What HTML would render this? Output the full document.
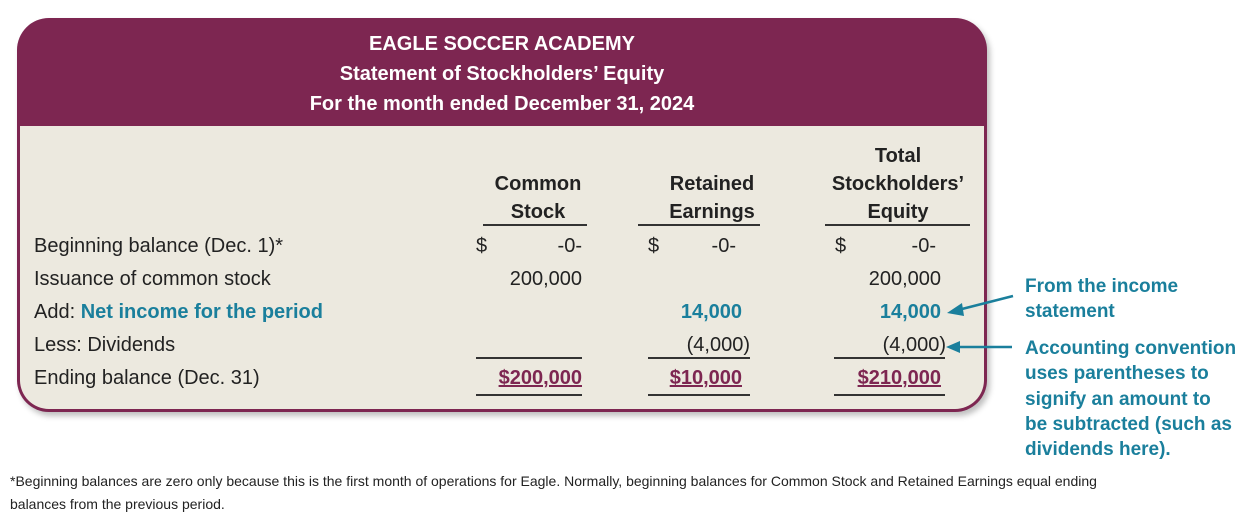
<!DOCTYPE html>
<html><head><meta charset="utf-8"><style>
body{margin:0;width:1260px;height:516px;background:#fff;position:relative;font-family:"Liberation Sans",sans-serif;overflow:hidden}
.a{position:absolute;white-space:nowrap;line-height:1}
.card{position:absolute;left:17px;top:18px;width:970px;height:394px;background:#7d2651;border-radius:32px;box-shadow:3px 4px 6px rgba(0,0,0,.25)}
.body{position:absolute;left:3px;top:108px;width:964px;height:283px;background:#ece9df;border-radius:0 0 29px 29px}
.h{color:#fff;font-weight:bold;font-size:20px;left:0;width:1004px;text-align:center}
.t{font-size:20px;color:#222}
.b{font-weight:bold}
.teal{color:#1a7f9c}
.pur{color:#7d2651}
.r{text-align:right}
.c{text-align:center}
.ln{position:absolute;height:1.5px;background:#333}
.an{color:#1a7f9c;font-weight:bold;font-size:19px;left:1025px}
.fn{font-size:14px;color:#222;left:10px}
</style></head><body>
<div class="card"><div class="body"></div></div>
<div class="a h" style="top:34px">EAGLE SOCCER ACADEMY</div>
<div class="a h" style="top:64px">Statement of Stockholders’ Equity</div>
<div class="a h" style="top:94px">For the month ended December 31, 2024</div>

<div class="a t b c" style="left:470px;width:136px;top:170px;line-height:28px">Common<br>Stock</div>
<div class="a t b c" style="left:640px;width:144px;top:170px;line-height:28px">Retained<br>Earnings</div>
<div class="a t b c" style="left:810px;width:176px;top:142px;line-height:28px">Total<br>Stockholders’<br>Equity</div>
<div class="ln" style="left:483px;width:104px;top:224px"></div>
<div class="ln" style="left:638px;width:122px;top:224px"></div>
<div class="ln" style="left:825px;width:145px;top:224px"></div>

<div class="a t" style="left:34px;top:236px">Beginning balance (Dec. 1)*</div>
<div class="a t" style="left:34px;top:269px">Issuance of common stock</div>
<div class="a t" style="left:34px;top:302px">Add: <span class="b teal">Net income for the period</span></div>
<div class="a t" style="left:34px;top:335px">Less: Dividends</div>
<div class="a t" style="left:34px;top:368px">Ending balance (Dec. 31)</div>

<div class="a t" style="left:476px;top:236px">$</div>
<div class="a t" style="left:648px;top:236px">$</div>
<div class="a t" style="left:835px;top:236px">$</div>
<div class="a t r" style="left:482px;width:100px;top:236px">-0-</div>
<div class="a t r" style="left:636px;width:100px;top:236px">-0-</div>
<div class="a t r" style="left:836px;width:100px;top:236px">-0-</div>
<div class="a t r" style="left:482px;width:100px;top:269px">200,000</div>
<div class="a t r" style="left:841px;width:100px;top:269px">200,000</div>
<div class="a t r b teal" style="left:642px;width:100px;top:302px">14,000</div>
<div class="a t r b teal" style="left:841px;width:100px;top:302px">14,000</div>
<div class="a t r" style="left:650px;width:100px;top:335px">(4,000)</div>
<div class="a t r" style="left:846px;width:100px;top:335px">(4,000)</div>
<div class="ln" style="left:476px;width:106px;top:357px"></div>
<div class="ln" style="left:648px;width:102px;top:357px"></div>
<div class="ln" style="left:834px;width:111px;top:357px"></div>
<div class="a t r b pur" style="left:462px;width:120px;top:368px;text-decoration:underline">$200,000</div>
<div class="a t r b pur" style="left:622px;width:120px;top:368px;text-decoration:underline">$10,000</div>
<div class="a t r b pur" style="left:821px;width:120px;top:368px;text-decoration:underline">$210,000</div>
<div class="ln" style="left:476px;width:106px;top:394px"></div>
<div class="ln" style="left:648px;width:102px;top:394px"></div>
<div class="ln" style="left:834px;width:111px;top:394px"></div>

<svg style="position:absolute;left:0;top:0" width="1260" height="516">
<line x1="1013" y1="296" x2="958" y2="310" stroke="#1a7f9c" stroke-width="2.5"/>
<polygon points="947,313 962,303 964,316" fill="#1a7f9c"/>
<line x1="1012" y1="347" x2="958" y2="347" stroke="#1a7f9c" stroke-width="2.5"/>
<polygon points="946,347 960,341 960,353" fill="#1a7f9c"/>
</svg>
<div class="a an" style="top:274px;line-height:25px">From the income<br>statement</div>
<div class="a an" style="top:336px;line-height:25.3px">Accounting convention<br>uses parentheses to<br>signify an amount to<br>be subtracted (such as<br>dividends here).</div>
<div class="a fn" style="top:470px;line-height:23px">*Beginning balances are zero only because this is the first month of operations for Eagle. Normally, beginning balances for Common Stock and Retained Earnings equal ending<br>balances from the previous period.</div>
</body></html>
